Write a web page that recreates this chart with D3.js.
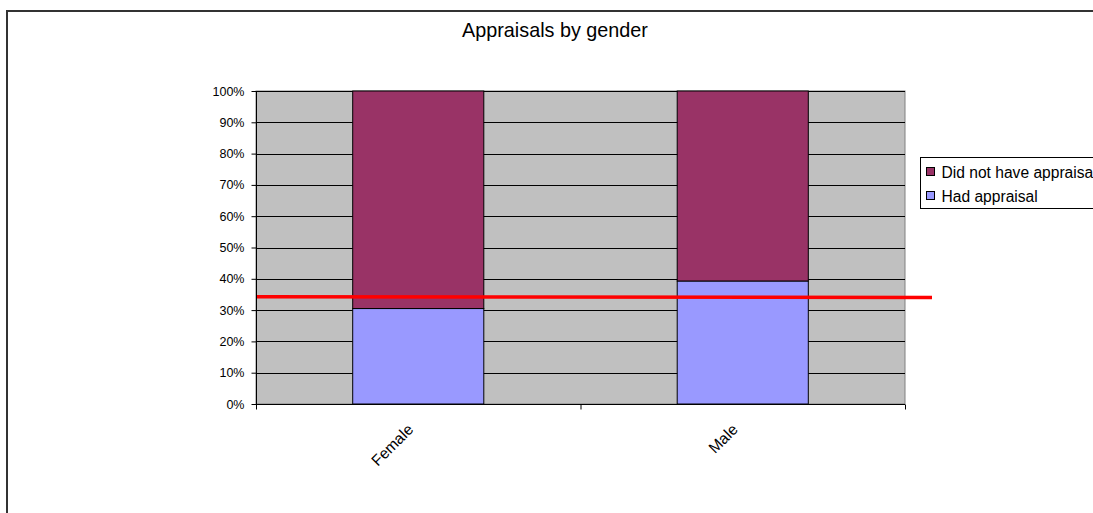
<!DOCTYPE html>
<html>
<head>
<meta charset="utf-8">
<script src="https://cdn.jsdelivr.net/npm/d3@7"></script>
<style>
  html, body { margin: 0; padding: 0; background: #fff; }
  svg { display: block; font-family: Arial, "Liberation Sans", sans-serif; }
</style>
</head>
<body>
<svg id="chart" width="1093" height="513"></svg>
<script>
// Appraisal share by gender (percent of staff)
const categories = ["Female", "Male"];
const hadAppraisal = [30.5, 39.3];
const noAppraisal = [69.5, 60.7];
const seriesNames = ["Did not have appraisal", "Had appraisal"];
const seriesColors = ["#993366", "#9999ff"];
const yTicks = [0, 10, 20, 30, 40, 50, 60, 70, 80, 90, 100];
// Overall appraisal rate, drawn as a reference line across the chart
const overallRate = [34.3, 34.0];

const svg = d3.select("#chart");

// Outer chart frame (runs off the right and bottom edges)
svg.append("rect")
  .attr("x", 7).attr("y", 11)
  .attr("width", 1200).attr("height", 600)
  .attr("fill", "#fff")
  .attr("stroke", "#333").attr("stroke-width", 2);

svg.append("text")
  .attr("x", 555).attr("y", 37)
  .attr("text-anchor", "middle")
  .attr("font-size", 19.8)
  .attr("fill", "#000")
  .text("Appraisals by gender");

const plot = { left: 256, right: 905, top: 91, bottom: 404 };

const x = d3.scaleBand()
  .domain(categories)
  .range([plot.left, plot.right]);
const barWidth = x.bandwidth() * 0.404;

const y = d3.scaleLinear()
  .domain([0, 100])
  .range([plot.bottom, plot.top]);

// Plot background
svg.append("rect")
  .attr("x", plot.left).attr("y", plot.top)
  .attr("width", plot.right - plot.left)
  .attr("height", plot.bottom - plot.top)
  .attr("fill", "#c0c0c0")
  .attr("stroke", "#808080").attr("stroke-width", 1);

// Horizontal gridlines
svg.append("g")
  .selectAll("line")
  .data(yTicks.filter(d => d > 0))
  .join("line")
  .attr("x1", plot.left).attr("x2", plot.right)
  .attr("y1", d => Math.round(y(d)) + 0.5)
  .attr("y2", d => Math.round(y(d)) + 0.5)
  .attr("stroke", "#000").attr("stroke-width", 1);

// Y axis
const yAxis = svg.append("g")
  .attr("transform", `translate(${plot.left + 0.5},0)`)
  .call(d3.axisLeft(y).tickValues(yTicks).tickFormat(d => d + "%").tickSize(5).tickPadding(7));
yAxis.selectAll("text").attr("font-size", 12.5).attr("fill", "#000")
  .attr("font-family", "Arial, 'Liberation Sans', sans-serif");
yAxis.selectAll("line").attr("stroke", "#000");
yAxis.select(".domain").attr("stroke", "#000").attr("d", `M0,${plot.top}V${plot.bottom}`);

// Stacked bars
const stacked = categories.map((c, i) => ({ cat: c, had: hadAppraisal[i], not: noAppraisal[i] }));
const bars = svg.append("g");
bars.selectAll("rect.had")
  .data(stacked)
  .join("rect")
  .attr("class", "had")
  .attr("x", d => x(d.cat) + (x.bandwidth() - barWidth) / 2)
  .attr("width", barWidth)
  .attr("y", d => y(d.had))
  .attr("height", d => y(0) - y(d.had))
  .attr("fill", seriesColors[1])
  .attr("stroke", "#000").attr("stroke-width", 1);
bars.selectAll("rect.not")
  .data(stacked)
  .join("rect")
  .attr("class", "not")
  .attr("x", d => x(d.cat) + (x.bandwidth() - barWidth) / 2)
  .attr("width", barWidth)
  .attr("y", d => y(d.had + d.not))
  .attr("height", d => y(d.had) - y(d.had + d.not))
  .attr("fill", seriesColors[0])
  .attr("stroke", "#000").attr("stroke-width", 1);

// X axis
const xAxisG = svg.append("g")
  .attr("transform", `translate(0,${plot.bottom + 0.5})`);
xAxisG.append("line")
  .attr("x1", plot.left).attr("x2", plot.right)
  .attr("stroke", "#000");
xAxisG.selectAll("line.tick")
  .data([plot.left, plot.left + x.step(), plot.right])
  .join("line")
  .attr("class", "tick")
  .attr("x1", d => d + 0.5).attr("x2", d => d + 0.5)
  .attr("y1", 0).attr("y2", 5)
  .attr("stroke", "#000");
xAxisG.selectAll("text")
  .data(categories)
  .join("text")
  .attr("transform", d => `translate(${x(d) + x.bandwidth() / 2 - 4},${26}) rotate(-45)`)
  .attr("text-anchor", "end")
  .attr("font-size", 15.5)
  .attr("fill", "#000")
  .text(d => d);

// Overall rate reference line
const lineX = d3.scaleLinear().domain([0, 1]).range([plot.left + 1, plot.right + 27]);
svg.append("line")
  .attr("x1", lineX(0)).attr("x2", lineX(1))
  .attr("y1", y(overallRate[0])).attr("y2", y(overallRate[1]))
  .attr("stroke", "#ff0000").attr("stroke-width", 3.5);

// Legend
const legend = svg.append("g").attr("transform", "translate(920.5,157.5)");
legend.append("rect")
  .attr("width", 300).attr("height", 51)
  .attr("fill", "#fff").attr("stroke", "#000").attr("stroke-width", 1);
const items = legend.selectAll("g.item")
  .data(seriesNames)
  .join("g")
  .attr("class", "item")
  .attr("transform", (d, i) => `translate(6,${10 + i * 24})`);
items.append("rect")
  .attr("width", 8).attr("height", 8)
  .attr("fill", (d, i) => seriesColors[i])
  .attr("stroke", "#000").attr("stroke-width", 1);
items.append("text")
  .attr("x", 15).attr("y", 10)
  .attr("font-size", 15.6)
  .attr("fill", "#000")
  .text(d => d);
</script>
</body>
</html>
